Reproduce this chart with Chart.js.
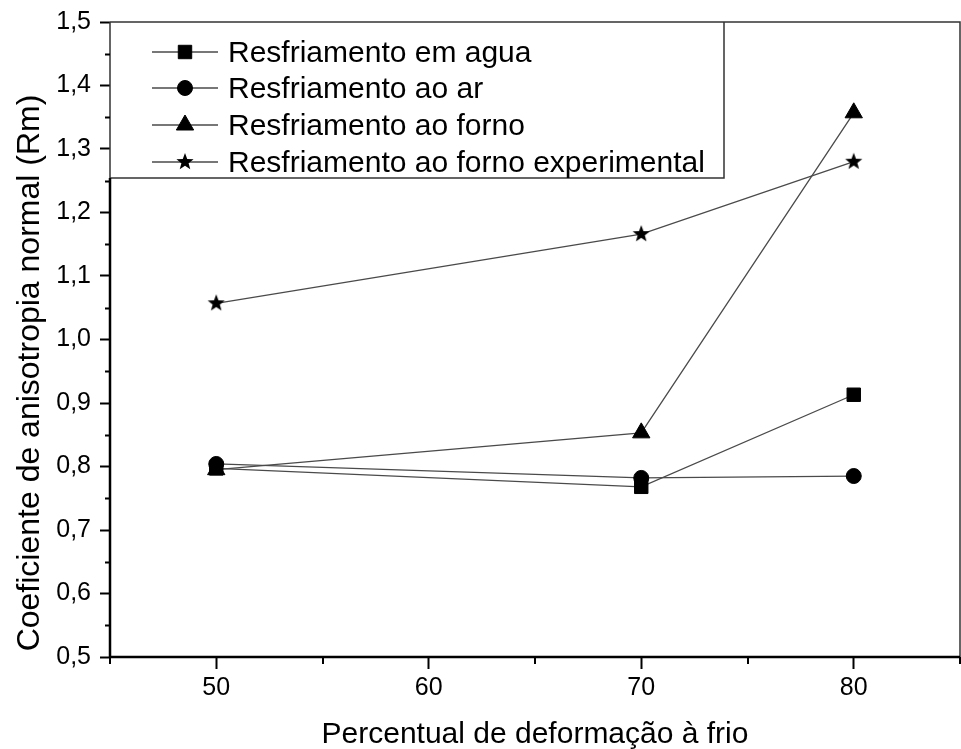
<!DOCTYPE html>
<html>
<head>
<meta charset="utf-8">
<script src="https://cdn.jsdelivr.net/npm/chart.js@4.4.1/dist/chart.umd.min.js"></script>
<style>
  html, body { margin: 0; padding: 0; background: #fff; }
  #wrap { width: 961px; height: 749px; }
</style>
</head>
<body>
<div id="wrap"><canvas id="c" width="961" height="749"></canvas></div>
<script>
// Percentual de deformação à frio (x) and Rm values per cooling route
const deformacao = [50, 70, 80];
const aguaRm = [0.797, 0.768, 0.913];
const arRm = [0.804, 0.782, 0.785];
const fornoRm = [0.795, 0.853, 1.357];
const fornoExpRm = [1.057, 1.166, 1.280];

const seriesNames = [
  'Resfriamento em agua',
  'Resfriamento ao ar',
  'Resfriamento ao forno',
  'Resfriamento ao forno experimental'
];

const xMajorTicks = [50, 60, 70, 80];
const xMinorTicks = [45, 55, 65, 75, 85];
const yMajorTicks = [0.5, 0.6, 0.7, 0.8, 0.9, 1.0, 1.1, 1.2, 1.3, 1.4, 1.5];
const yMinorTicks = [0.55, 0.65, 0.75, 0.85, 0.95, 1.05, 1.15, 1.25, 1.35, 1.45];

const xTitle = 'Percentual de deformação à frio';
const yTitle = 'Coeficiente de anisotropia normal (Rm)';

const FONT = '"Liberation Sans", Arial, sans-serif';
Chart.defaults.font.family = FONT;
Chart.defaults.color = '#000';

// filled five-point star used as a point style
function makeStar(R) {
  const s = Math.ceil(2 * R + 2);
  const c = document.createElement('canvas');
  c.width = s; c.height = s;
  const g = c.getContext('2d');
  g.fillStyle = '#000';
  g.beginPath();
  for (let i = 0; i < 10; i++) {
    const a = -Math.PI / 2 + i * Math.PI / 5;
    const r = i % 2 ? R * 0.42 : R;
    const px = s / 2 + r * Math.cos(a), py = s / 2 + r * Math.sin(a);
    if (i === 0) g.moveTo(px, py); else g.lineTo(px, py);
  }
  g.closePath();
  g.fill();
  return c;
}
const starImg = makeStar(9);

const LINE = '#4a4a4a';
function series(label, values, style, radius) {
  return {
    label,
    data: deformacao.map((x, i) => ({ x, y: values[i] })),
    borderColor: LINE,
    borderWidth: 1.3,
    pointStyle: style,
    pointRadius: radius,
    pointHoverRadius: radius,
    pointBackgroundColor: '#000',
    pointBorderColor: '#000',
    pointBorderWidth: 1,
    tension: 0,
    fill: false
  };
}

const datasets = [
  series(seriesNames[0], aguaRm, 'rect', 9.5),
  series(seriesNames[1], arRm, 'circle', 7.5),
  series(seriesNames[2], fornoRm, 'triangle', 10),
  series(seriesNames[3], fornoExpRm, starImg, 9)
];

// frame, minor ticks, inset legend and axis titles
const decorations = {
  id: 'decorations',
  afterDraw(chart) {
    const ctx = chart.ctx;
    const { left, right, top, bottom } = chart.chartArea;
    const xs = chart.scales.x, ys = chart.scales.y;
    const legBottom = 178, legRight = 724;

    ctx.save();
    ctx.lineCap = 'butt';

    // thin top/right border and legend box
    ctx.strokeStyle = '#333';
    ctx.lineWidth = 1.5;
    ctx.beginPath();
    ctx.moveTo(left, top); ctx.lineTo(right, top); ctx.lineTo(right, bottom);
    ctx.moveTo(left, top); ctx.lineTo(left, legBottom);
    ctx.moveTo(left, legBottom); ctx.lineTo(legRight, legBottom); ctx.lineTo(legRight, top);
    ctx.stroke();

    // thick axes
    ctx.strokeStyle = '#000';
    ctx.lineWidth = 2.5;
    ctx.beginPath();
    ctx.moveTo(left, legBottom); ctx.lineTo(left, bottom + 1);
    ctx.moveTo(left - 1, bottom); ctx.lineTo(right, bottom);
    ctx.stroke();

    // minor ticks
    ctx.lineWidth = 2;
    ctx.beginPath();
    yMinorTicks.forEach(v => {
      const py = Math.round(ys.getPixelForValue(v)) + 0.5;
      ctx.moveTo(left - 5, py); ctx.lineTo(left, py);
    });
    xMinorTicks.forEach(v => {
      const px = Math.round(xs.getPixelForValue(v));
      ctx.moveTo(px, bottom); ctx.lineTo(px, bottom + 7);
    });
    ctx.stroke();

    // legend entries
    const rowY = [52, 88, 125, 162];
    chart.data.datasets.forEach((ds, i) => {
      const y = rowY[i];
      ctx.strokeStyle = LINE;
      ctx.lineWidth = 1.3;
      ctx.beginPath();
      ctx.moveTo(152, y); ctx.lineTo(218, y);
      ctx.stroke();
      ctx.fillStyle = '#000';
      ctx.strokeStyle = '#000';
      ctx.lineWidth = 1;
      Chart.helpers.drawPoint(ctx, {
        pointStyle: ds.pointStyle,
        radius: ds.pointRadius,
        rotation: 0,
        borderWidth: 1
      }, 185, y);
      ctx.fillStyle = '#000';
      ctx.font = '30px ' + FONT;
      ctx.textAlign = 'left';
      ctx.textBaseline = 'alphabetic';
      ctx.fillText(ds.label, 228, y + 10);
    });

    // axis titles
    ctx.fillStyle = '#000';
    ctx.textAlign = 'center';
    ctx.textBaseline = 'alphabetic';
    ctx.font = '30px ' + FONT;
    ctx.fillText(xTitle, (left + right) / 2, 743);
    ctx.font = '32px ' + FONT;
    ctx.translate(39, 373);
    ctx.rotate(-Math.PI / 2);
    ctx.fillText(yTitle, 0, 0);
    ctx.restore();
  }
};

new Chart(document.getElementById('c'), {
  type: 'line',
  data: { datasets },
  options: {
    responsive: false,
    animation: false,
    devicePixelRatio: 1,
    layout: { autoPadding: false, padding: { top: 22, right: 1, left: 0, bottom: 0 } },
    plugins: { legend: { display: false }, tooltip: { enabled: false } },
    scales: {
      x: {
        type: 'linear',
        min: 45, max: 85,
        afterBuildTicks: s => { s.ticks = xMajorTicks.map(v => ({ value: v })); },
        afterFit: s => { s.height = 92; s.paddingLeft = 0; s.paddingRight = 0; },
        border: { display: false },
        grid: { drawOnChartArea: false, drawTicks: true, tickLength: 12, tickWidth: 2, tickColor: '#000' },
        ticks: { padding: 4, font: { size: 25 }, color: '#000', autoSkip: false, maxRotation: 0 }
      },
      y: {
        type: 'linear',
        min: 0.5, max: 1.5,
        afterBuildTicks: s => { s.ticks = yMajorTicks.map(v => ({ value: v })); },
        afterFit: s => { s.width = 110; s.paddingTop = 0; s.paddingBottom = 0; },
        border: { display: false },
        grid: { drawOnChartArea: false, drawTicks: true, tickLength: 10, tickWidth: 2, tickColor: '#000' },
        ticks: {
          padding: 9, font: { size: 25 }, color: '#000', autoSkip: false,
          callback: v => v.toFixed(1).replace('.', ',')
        }
      }
    }
  },
  plugins: [decorations]
});
</script>
</body>
</html>
